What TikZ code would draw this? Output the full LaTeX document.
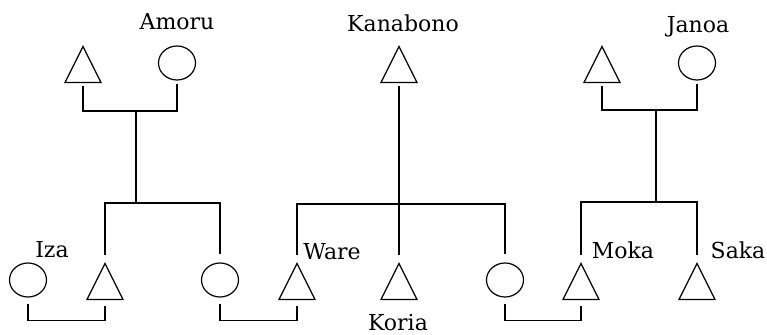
\documentclass[tikz,border=0pt]{standalone}
\usepackage{fontspec}
\setmainfont{DejaVu Serif}
\usetikzlibrary{shapes.geometric}
\tikzset{
  male/.style={draw=black, isosceles triangle, shape border rotate=90, isosceles triangle stretches, minimum width=18pt, minimum height=18pt, inner sep=0pt, anchor=apex},
  female/.style={draw=black, ellipse, minimum width=18.5pt, minimum height=17pt, inner sep=0pt},
  kin/.style={anchor=base, inner sep=0pt, font=\fontsize{11}{13}\selectfont}
}
\begin{document}
\begin{tikzpicture}[x=0.5pt,y=-0.5pt,line width=0.6pt]
\useasboundingbox (0,0) rectangle (767,335);
\node[male] (amoruH) at (83,45) {};
\node[female] (amoru) at (177,63) {};
\node[male] (kanabono) at (399,45) {};
\node[male] (janoaH) at (602,45) {};
\node[female] (janoa) at (697,63) {};
\node[female] (iza) at (28,280) {};
\node[male] (izaH) at (105,262) {};
\node[female] (wareW) at (220,280) {};
\node[male] (ware) at (297,262) {};
\node[male] (koria) at (399,262) {};
\node[female] (mokaW) at (505,280) {};
\node[male] (moka) at (581,262) {};
\node[male] (saka) at (697,262) {};
\node[kin] (tAmoru) at (177,30) {Amoru};
\node[kin] (tKanabono) at (403,32) {Kanabono};
\node[kin] (tJanoa) at (698,33) {Janoa};
\node[kin] (tIza) at (52,258) {Iza};
\node[kin] (tWare) at (332,260) {Ware};
\node[kin] (tKoria) at (398,331) {Koria};
\node[kin] (tMoka) at (623,259) {Moka};
\node[kin] (tSaka) at (738,259) {Saka};
\coordinate (a1) at (136,111);
\coordinate (a2) at (136,203);
\coordinate (k1) at (399,204);
\coordinate (j1) at (656,110);
\coordinate (j2) at (656,202);
\draw ([yshift=-1.5pt]amoruH.south) |- (a1) -| ([yshift=-1.5pt]amoru.south);
\draw (a1)--(a2);
\draw ([yshift=3.5pt]izaH.apex) |- (a2) -| ([yshift=4pt]wareW.north);
\draw ([yshift=-1.5pt]kanabono.south)--([yshift=3.5pt]koria.apex);
\draw ([yshift=3.5pt]ware.apex) |- (k1) -| ([yshift=4pt]mokaW.north);
\draw ([yshift=-1.5pt]janoaH.south) |- (j1) -| ([yshift=-1.5pt]janoa.south);
\draw (j1)--(j2);
\draw ([yshift=3.5pt]moka.apex) |- (j2) -| ([yshift=3.5pt]saka.apex);
\draw ([yshift=-3pt]iza.south) -- ++(0,17) -| ([yshift=-3pt]izaH.south);
\draw ([yshift=-3pt]wareW.south) -- ++(0,17) -| ([yshift=-3pt]ware.south);
\draw ([yshift=-3pt]mokaW.south) -- ++(0,17) -| ([yshift=-3pt]moka.south);
\end{tikzpicture}
\end{document}
